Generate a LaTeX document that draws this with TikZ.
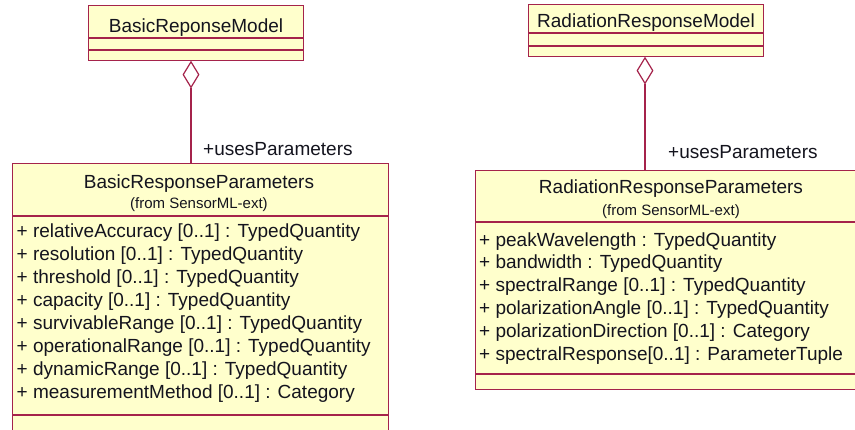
\documentclass[tikz,border=0pt]{standalone}
\usepackage{fontspec}
\setmainfont{Liberation Sans}
\usetikzlibrary{shapes.geometric}
\definecolor{umlborder}{RGB}{165,35,75}
\definecolor{umlfill}{RGB}{255,255,204}
\definecolor{umltext}{RGB}{20,20,30}
\tikzset{
  classbox/.style={draw=umlborder, fill=umlfill, line width=1.2pt, inner sep=0pt, anchor=north west},
  compsep/.style={draw=umlborder, line width=1.2pt},
  clsname/.style={font=\fontsize{19}{23}\selectfont, text=umltext, inner sep=0pt, anchor=base},
  pkgnote/.style={font=\fontsize{15}{17}\selectfont, text=umltext, inner sep=0pt, anchor=base},
  attr/.style={font=\fontsize{19}{23}\selectfont, text=umltext, inner sep=0pt, anchor=base west},
  rolelabel/.style={font=\fontsize{19}{23}\selectfont, text=umltext, inner sep=0pt, anchor=base west},
  aggdiamond/.style={diamond, draw=umlborder, fill=white, line width=1.2pt, inner sep=0pt,
                     minimum width=16pt, minimum height=26pt, anchor=north},
  assoc/.style={draw=umlborder, line width=1.2pt}
}
\begin{document}
\begin{tikzpicture}[x=1pt,y=-1pt]
\useasboundingbox (0,0) rectangle (855,429);
\clip (0,0) rectangle (855,429);
\fill[white] (0,0) rectangle (855,429);

% ---- BasicReponseModel ----
\node[classbox, minimum width=215pt, minimum height=55pt] (brm) at (88,5) {};
\draw[compsep] (88,38) -- (303,38);
\draw[compsep] (88,50) -- (303,50);
\node[clsname] (brmname) at (196,32) {BasicReponseModel};

% ---- RadiationResponseModel ----
\node[classbox, minimum width=235pt, minimum height=52pt] (rrm) at (528,4) {};
\draw[compsep] (528,33) -- (763,33);
\draw[compsep] (528,46) -- (763,46);
\node[clsname] (rrmname) at (646,27) {RadiationResponseModel};

% ---- BasicResponseParameters ----
\node[classbox, minimum width=376pt, minimum height=290pt] (brp) at (12,163) {};
\draw[compsep] (12,216) -- (388,216);
\draw[compsep] (12,415) -- (388,415);
\node[clsname] (brpname) at (199,188) {BasicResponseParameters};
\node[pkgnote] (brpfrom) at (199,208) {(from SensorML-ext)};
\foreach \t [count=\i from 0] in {
  {+ relativeAccuracy [0..1] : TypedQuantity},
  {+ resolution [0..1] : TypedQuantity},
  {+ threshold [0..1] : TypedQuantity},
  {+ capacity [0..1] : TypedQuantity},
  {+ survivableRange [0..1] : TypedQuantity},
  {+ operationalRange [0..1] : TypedQuantity},
  {+ dynamicRange [0..1] : TypedQuantity},
  {+ measurementMethod [0..1] : Category}}
  \node[attr] (brpa\i) at (16.5,237+23*\i) {\t};

% ---- RadiationResponseParameters ----
\node[classbox, minimum width=392pt, minimum height=219pt] (rrp) at (475,170) {};
\draw[compsep] (475,222) -- (867,222);
\draw[compsep] (475,374) -- (867,374);
\node[clsname] (rrpname) at (671,193) {RadiationResponseParameters};
\node[pkgnote] (rrpfrom) at (671,215) {(from SensorML-ext)};
\foreach \t [count=\i from 0] in {
  {+ peakWavelength : TypedQuantity},
  {+ bandwidth : TypedQuantity},
  {+ spectralRange [0..1] : TypedQuantity},
  {+ polarizationAngle [0..1] : TypedQuantity},
  {+ polarizationDirection [0..1] : Category},
  {+ spectralResponse[0..1] : ParameterTuple}}
  \node[attr] (rrpa\i) at (479,246+22.8*\i) {\t};

% ---- aggregations ----
\node[aggdiamond] (aggl) at (191,61) {};
\draw[assoc] (aggl.south) -- (aggl.south |- brp.north);
\node[rolelabel] (rolel) at (203,155) {+usesParameters};

\node[aggdiamond] (aggr) at (645,57) {};
\draw[assoc] (aggr.south) -- (aggr.south |- rrp.north);
\node[rolelabel] (roler) at (668,158) {+usesParameters};
\end{tikzpicture}
\end{document}
